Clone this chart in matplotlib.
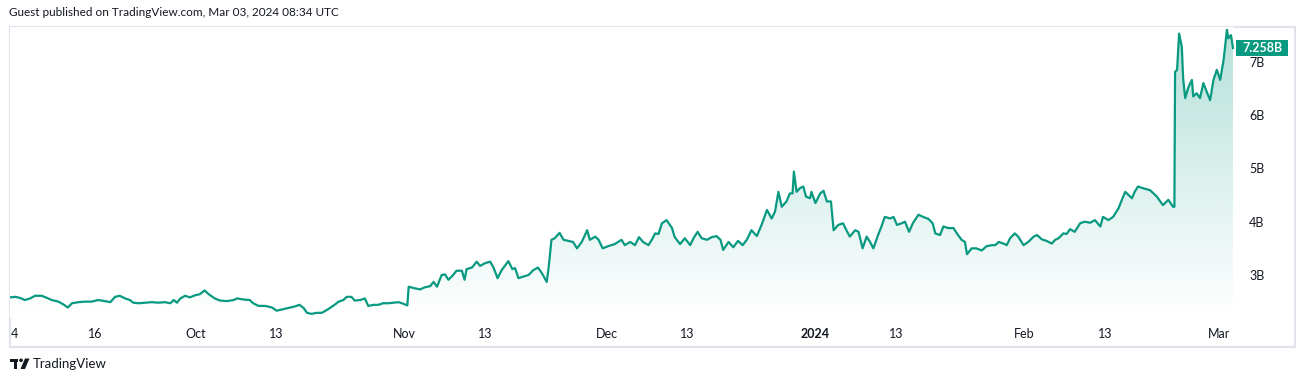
import numpy as np
import pandas as pd
import matplotlib
matplotlib.use("Agg")
import matplotlib.pyplot as plt
import matplotlib.dates as mdates
import matplotlib.transforms as mtransforms
from matplotlib.patches import Rectangle, Polygon, Circle

plt.rcParams["font.family"] = ["Lato", "DejaVu Sans"]

START = pd.Timestamp("2023-09-04")
LINE_COLOR = "#089981"
TEXT_COLOR = "#131722"

# days since 2023-09-04 and value in billions
days = [
    -0.6, 0.15, 0.9, 1.6, 2.4, 3.1, 4.1, 4.9, 5.6, 6.6, 7.3, 8.0, 8.6, 9.6, 10.5,
    11.5, 12.5, 13.5, 14.3, 15.0, 15.7, 16.5, 17.2, 17.7, 18.5, 19.5, 20.5, 21.4,
    22.4, 23.2, 23.7, 24.2, 24.7, 25.4, 26.1, 26.9, 27.6, 28.3, 28.9, 29.8, 30.6,
    31.6, 32.6, 33.1, 34.1, 35.0, 35.5, 36.3, 37.3, 38.3, 39.0, 40.0, 41.0, 41.7,
    42.4, 43.0, 43.5, 44.2, 44.9, 45.7, 46.4, 46.9, 47.7, 48.2, 48.9, 49.4, 50.1,
    50.6, 51.4, 52.1, 52.6, 53.4, 54.1, 54.8, 55.6, 56.3, 57.1, 57.8, 58.4, 58.6,
    59.5, 60.3, 61.0, 61.8, 62.3, 62.8, 63.5, 64.0, 64.5, 65.2, 65.7, 66.5, 66.9,
    67.2, 68.0, 68.7, 69.2, 69.9, 70.7, 71.2, 71.8, 72.4, 73.4, 74.0, 74.4, 74.9,
    75.6, 76.4, 77.1, 77.8, 78.4, 79.1, 79.4, 79.8, 80.3, 81.0, 81.6, 82.3, 83.0,
    83.6, 84.3, 85.1, 85.5, 86.3, 86.8, 87.4, 88.2, 89.2, 90.2, 90.7, 91.5, 92.2,
    92.8, 93.4, 94.2, 94.7, 95.2, 95.7, 96.2, 96.9, 97.7, 98.1, 98.9, 99.6, 100.4,
    100.9, 101.5, 102.1, 102.9, 103.6, 104.3, 104.9, 105.3, 106.1, 106.8, 107.5,
    108.2, 108.8, 109.5, 110.3, 111.0, 111.8, 112.5, 113.0, 113.5, 114.0, 114.7,
    115.2, 115.6, 115.8, 116.2, 116.7, 117.2, 117.6, 118.2, 118.4, 119.0, 119.7,
    120.2, 120.7, 121.3, 121.7, 122.4, 123.1, 123.6, 124.1, 124.9, 125.4, 126.0,
    126.6, 127.1, 127.6, 128.3, 128.8, 129.3, 130.1, 130.6, 131.1, 131.8, 132.3,
    132.9, 133.5, 134.3, 135.0, 135.8, 136.4, 136.8, 137.5, 138.0, 138.7, 139.5,
    140.0, 140.7, 141.2, 141.5, 142.2, 142.9, 143.7, 144.4, 145.2, 145.7, 146.2,
    146.9, 147.4, 147.9, 148.6, 149.1, 149.9, 150.6, 151.4, 151.9, 152.6, 153.3,
    154.1, 154.6, 155.1, 155.8, 156.3, 156.8, 157.5, 158.3, 159.0, 159.8, 160.5,
    161.3, 161.7, 162.5, 163.2, 164.0, 164.5, 165.0, 165.5, 166.0, 166.4, 166.9,
    167.6, 168.7, 169.7, 170.6, 171.4, 172.1, 172.3, 172.4, 172.7, 173.0, 173.4,
    173.6, 173.9, 174.4, 174.9, 175.1, 175.6, 176.1, 176.6, 177.1, 177.6, 178.1,
    178.6, 179.1, 179.6, 180.1, 180.3, 180.7, 181.0,
]
cap_b = [
    2.58, 2.59, 2.57, 2.53, 2.56, 2.61, 2.61, 2.57, 2.53, 2.50, 2.45, 2.39, 2.47, 2.49, 2.50,
    2.50, 2.53, 2.51, 2.49, 2.59, 2.61, 2.56, 2.53, 2.48, 2.47, 2.48, 2.49, 2.48,
    2.49, 2.47, 2.53, 2.48, 2.56, 2.61, 2.58, 2.62, 2.64, 2.71, 2.64, 2.56, 2.52,
    2.51, 2.53, 2.56, 2.54, 2.53, 2.47, 2.42, 2.42, 2.39, 2.33, 2.36, 2.39, 2.41,
    2.44, 2.38, 2.29, 2.27, 2.29, 2.29, 2.34, 2.38, 2.45, 2.50, 2.53, 2.59, 2.59,
    2.52, 2.53, 2.56, 2.42, 2.44, 2.44, 2.47, 2.47, 2.48, 2.49, 2.46, 2.43, 2.78,
    2.75, 2.73, 2.77, 2.79, 2.87, 2.78, 3.00, 3.01, 2.91, 3.00, 3.08, 3.08, 2.91,
    3.11, 3.14, 3.25, 3.17, 3.22, 3.25, 3.14, 2.94, 3.09, 3.26, 3.11, 3.13, 2.94,
    2.97, 3.00, 3.09, 3.14, 3.03, 2.87, 3.16, 3.66, 3.69, 3.79, 3.66, 3.64, 3.62,
    3.50, 3.62, 3.84, 3.66, 3.72, 3.66, 3.50, 3.54, 3.58, 3.66, 3.56, 3.62, 3.56,
    3.71, 3.62, 3.56, 3.66, 3.78, 3.77, 3.97, 4.03, 3.88, 3.71, 3.58, 3.69, 3.56,
    3.69, 3.81, 3.69, 3.66, 3.71, 3.73, 3.66, 3.47, 3.62, 3.52, 3.64,
    3.56, 3.66, 3.84, 3.73, 3.94, 4.22, 4.06, 4.19, 4.56, 4.28, 4.38,
    4.53, 4.53, 4.94, 4.56, 4.63, 4.66, 4.47, 4.44, 4.56, 4.35, 4.53,
    4.58, 4.38, 4.38, 3.84, 3.94, 3.97, 3.84, 3.72, 3.84, 3.81, 3.50,
    3.72, 3.62, 3.50, 3.75, 3.91, 4.09, 4.06, 4.09, 3.94, 3.97, 4.00,
    3.81, 3.98, 4.13, 4.09, 4.05, 3.97, 3.78, 3.75, 3.91, 3.88, 3.88,
    3.78, 3.66, 3.62, 3.39, 3.50, 3.50, 3.46, 3.54, 3.56, 3.56, 3.62,
    3.59, 3.56, 3.69, 3.78, 3.72, 3.56, 3.62, 3.72, 3.75, 3.67, 3.64,
    3.59, 3.66, 3.69, 3.78, 3.77, 3.86, 3.81, 3.97, 4.00, 3.98, 4.03,
    3.91, 4.09, 4.03, 4.09, 4.25, 4.41, 4.56, 4.50, 4.44, 4.56, 4.66,
    4.63, 4.59, 4.47, 4.31, 4.41, 4.28, 4.28, 6.81, 6.85, 7.53, 7.28,
    6.69, 6.32, 6.53, 6.66, 6.35, 6.41, 6.32, 6.60, 6.44, 6.28, 6.66,
    6.85, 6.66, 7.03, 7.60, 7.44, 7.50, 7.258,
]

tick_dates = ["2023-09-04", "2023-09-16", "2023-10-01", "2023-10-13", "2023-11-01",
              "2023-11-13", "2023-12-01", "2023-12-13", "2024-01-01", "2024-01-13",
              "2024-02-01", "2024-02-13", "2024-03-01"]
tick_labels = ["4", "16", "Oct", "13", "Nov", "13", "Dec", "13", "2024", "13",
               "Feb", "13", "Mar"]
y_ticks = [3, 4, 5, 6, 7]
y_tick_labels = ["3B", "4B", "5B", "6B", "7B"]

W, H = 1304, 382
fig = plt.figure(figsize=(W / 100, H / 100), dpi=100)

# overlay in pixel units for frame and branding
over = fig.add_axes([0, 0, 1, 1], zorder=-1)
over.set_xlim(0, W)
over.set_ylim(H, 0)
over.axis("off")
over.add_patch(Rectangle((9.5, 26.5), 1285, 320, fill=False, ec="#e0e3eb", lw=1.5))

# plot area
ax = fig.add_axes([10 / W, 1 - 318 / H, (1234 - 10) / W, (318 - 27) / H])
dates = START + pd.to_timedelta(days, unit="D")
x = mdates.date2num(dates.to_pydatetime())
y = np.array(cap_b)

x0 = mdates.date2num(START - pd.Timedelta(days=0.6))
x1 = mdates.date2num(START + pd.Timedelta(days=181.15))
ylo, yhi = 2.193, 7.653
ax.set_xlim(x0, x1)
ax.set_ylim(ylo, yhi)

# gradient area fill
poly = ax.fill_between(x, y, ylo, facecolor="none", edgecolor="none")
grad = np.zeros((256, 1, 4))
grad[:, 0, :3] = matplotlib.colors.to_rgb(LINE_COLOR)
grad[:, 0, 3] = np.linspace(0.30, 0.0, 256)
top = y.max()
im = ax.imshow(grad, aspect="auto", extent=[x0, x1, ylo, top], origin="upper",
               interpolation="bilinear", zorder=1)
path = poly.get_paths()[0]
im.set_clip_path(path, transform=ax.transData)

ax.plot(x, y, color=LINE_COLOR, lw=1.6, zorder=3, solid_joinstyle="round")

for s in ax.spines.values():
    s.set_visible(False)

ax.set_xticks(mdates.date2num(pd.to_datetime(tick_dates).to_pydatetime()))
ax.set_xticklabels(tick_labels)
ax.tick_params(axis="x", length=0, pad=7, labelsize=9, labelcolor=TEXT_COLOR)
for lab in ax.get_xticklabels():
    if lab.get_text() == "2024":
        lab.set_fontweight("bold")

ax.yaxis.tick_right()
ax.set_yticks(y_ticks)
ax.set_yticklabels(y_tick_labels)
ax.tick_params(axis="y", length=0, pad=11, labelsize=9, labelcolor=TEXT_COLOR)

# last value label
trans = mtransforms.blended_transform_factory(ax.transAxes, ax.transData)
px_per_b = (318 - 27) / (yhi - ylo)
half_h = 8 / px_per_b
ax.add_patch(Rectangle((1.0016, y[-1] - half_h), 52 / 1224, 2 * half_h,
                       transform=trans, fc=LINE_COLOR, ec="none", clip_on=False))
ax.text(1.0016 + 26 / 1224, y[-1], f"{y[-1]:.3f}B", transform=trans, ha="center",
        va="center", color="white", fontsize=9, fontweight="bold", clip_on=False)

# header and footer
fig.text(9 / W, 1 - 13 / H, "Guest published on TradingView.com, Mar 03, 2024 08:34 UTC",
         ha="left", va="center", fontsize=8.5, color=TEXT_COLOR)
over.add_patch(Rectangle((10, 358.5), 8, 3, fc=TEXT_COLOR, ec="none"))
over.add_patch(Rectangle((13.5, 358.5), 3.5, 10.5, fc=TEXT_COLOR, ec="none"))
over.add_patch(Circle((21, 360.3), 1.8, fc=TEXT_COLOR, ec="none"))
over.add_patch(Polygon([(25, 358.5), (29.5, 358.5), (25, 369), (20.5, 369)],
                       closed=True, fc=TEXT_COLOR, ec="none"))
fig.text(33 / W, 1 - 364 / H, "TradingView", ha="left", va="center",
         fontsize=9.5, color=TEXT_COLOR)

fig.savefig("out.png", dpi=100)
